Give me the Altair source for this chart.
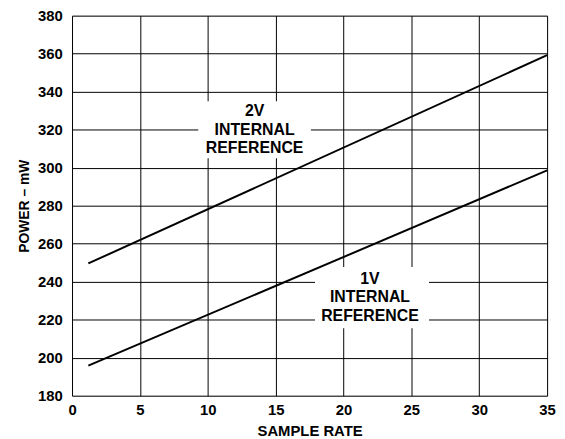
import altair as alt
import pandas as pd

# Line data (sample rate vs power)
series = ["2V", "2V", "1V", "1V"]
rate = [1.2, 35, 1.2, 35]
power = [249.6, 359.2, 195.8, 298.6]

# Annotation labels
lab_x = [13.45, 21.95]
lab_lines = [["2V", "INTERNAL", "REFERENCE"], ["1V", "INTERNAL", "REFERENCE"]]
lab_y = [329.6, 241.3]
box_x1 = [9.3, 17.9]
box_x2 = [17.6, 26.3]
box_y1 = [305, 215.5]
box_y2 = [335, 247.7]

x_ticks = [0, 5, 10, 15, 20, 25, 30, 35]
y_ticks = [180, 200, 220, 240, 260, 280, 300, 320, 340, 360, 380]

FONT = "Liberation Sans"

lines_df = pd.DataFrame({"series": series, "rate": rate, "power": power})
box_df = pd.DataFrame({"x1": box_x1, "x2": box_x2, "y1": box_y1, "y2": box_y2})
lab_df = pd.DataFrame({"x": lab_x, "y": lab_y, "text": lab_lines})

xs = alt.Scale(domain=[0, 35], nice=False)
ys = alt.Scale(domain=[180, 380], nice=False)

xax = alt.Axis(values=x_ticks, title="SAMPLE RATE", labelPadding=7,
               titlePadding=6, titleFontSize=15, labelOverlap=False, labelFlush=False)
yax = alt.Axis(values=y_ticks, title="POWER – mW", labelPadding=10,
               titlePadding=6, titleFontSize=14, labelOverlap=False, labelFlush=False)

boxes = alt.Chart(box_df).mark_rect(fill="white").encode(
    x=alt.X("x1:Q", scale=xs, axis=xax),
    x2="x2:Q",
    y=alt.Y("y1:Q", scale=ys, axis=yax),
    y2="y2:Q",
)

lines = alt.Chart(lines_df).mark_line(color="black", strokeWidth=2).encode(
    x=alt.X("rate:Q", scale=xs, axis=xax),
    y=alt.Y("power:Q", scale=ys, axis=yax),
    detail="series:N",
)

labels = alt.Chart(lab_df).mark_text(
    font=FONT, fontSize=16, fontWeight="bold", color="black",
    baseline="middle", align="center", lineHeight=18.5,
).encode(
    x=alt.X("x:Q", scale=xs, axis=xax),
    y=alt.Y("y:Q", scale=ys, axis=yax),
    text="text",
)

chart = alt.layer(boxes, lines, labels).properties(
    width=480, height=384,
    autosize=alt.AutoSizeParams(type="none"),
    padding={"left": 64.7, "top": 5.5, "right": 10, "bottom": 40},
).configure_view(stroke="black", strokeWidth=2).configure(
    background="white"
).configure_axis(
    grid=True, gridColor="black", gridWidth=1, gridOpacity=1, ticks=False,
    domain=False, labelFont=FONT, labelFontSize=15, labelFontWeight="bold",
    labelColor="black", titleFont=FONT, titleFontWeight="bold",
    titleColor="black", labelOverlap=False, labelFlush=False,
)

chart.save("out.html", embed_options={"renderer": "svg", "actions": False})
